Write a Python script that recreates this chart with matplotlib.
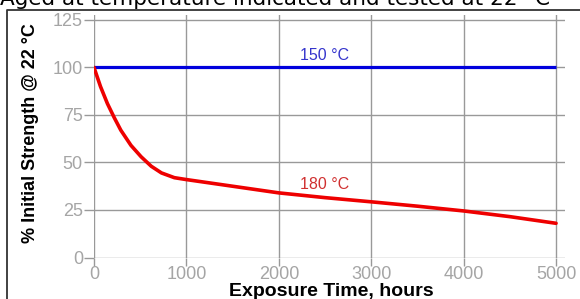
import matplotlib.pyplot as plt
from matplotlib.lines import Line2D

# data
hours_150 = [0, 5000]
strength_150 = [100, 100]

hours_180 = [0, 70, 145, 220, 290, 400, 510, 620, 730, 870, 1000,
             1500, 2000, 2500, 3000, 3500, 4000, 4500, 5000]
strength_180 = [100, 90, 81, 73.5, 67, 59, 53, 48, 44.5, 42, 41,
                37.5, 34, 31.5, 29.3, 27, 24.5, 21.5, 18]

xticks = [0, 1000, 2000, 3000, 4000, 5000]
yticks = [0, 25, 50, 75, 100, 125]

title = "Aged at temperature indicated and tested at 22 °C"
xlabel = "Exposure Time, hours"
ylabel = "% Initial Strength @ 22 °C"

grid_col = "#999999"

fig = plt.figure(figsize=(5.8, 2.99), dpi=100)
ax = fig.add_axes([94/580, 1-257.5/299, (565-94)/580, (257.5-15)/299])

ax.plot(hours_150, strength_150, color="#0000dd", lw=2.3, solid_capstyle="butt", zorder=3)
ax.plot(hours_180, strength_180, color="#ee0000", lw=2.6, solid_capstyle="round", zorder=3)

ax.set_xlim(0, 5097)
ax.set_ylim(0, 127.6)
ax.set_xticks(xticks)
ax.set_yticks(yticks)
ax.grid(True, color=grid_col, lw=1)
ax.set_axisbelow(True)
for s in ax.spines.values():
    s.set_visible(False)
ax.tick_params(colors=grid_col, labelcolor="#a5a5a5", length=7, width=1,
               labelsize=13, pad=1)
ax.tick_params(axis="x", length=6, pad=0)
for lab in ax.get_xticklabels() + ax.get_yticklabels():
    lab.set_fontfamily("Liberation Sans")

ax.text(2500, 106.5, "150 °C", color="#3535cc", fontsize=11.5,
        family="Liberation Sans", ha="center", va="center")
ax.text(2500, 38.5, "180 °C", color="#d03030", fontsize=11.5,
        family="Liberation Sans", ha="center", va="center")

fig.text(331/580, 1-296/299, xlabel, fontsize=14, fontweight="bold",
         family="Liberation Sans", ha="center", va="baseline")
fig.text(31/580, 1-133/299, ylabel, fontsize=13, fontweight="bold",
         family="Liberation Sans", ha="center", va="center", rotation=90)

# title cut off by the top of the screenshot
fig.text(0, 1-5/299, title, fontsize=15.5, family="DejaVu Sans",
         ha="left", va="baseline")

# frame around the chart (left and top edges only are visible)
fig.add_artist(Line2D([7/580, 7/580, 1.0], [0, 1-10/299, 1-10/299],
                      transform=fig.transFigure, color="#333333", lw=1.3))

fig.savefig("out.png", dpi=100)
